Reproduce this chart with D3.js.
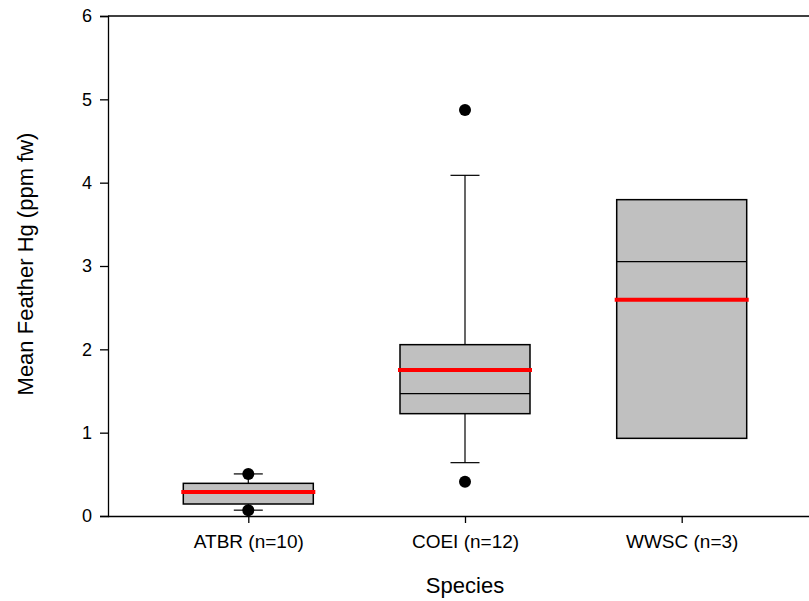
<!DOCTYPE html>
<html><head><meta charset="utf-8">
<script src="https://cdn.jsdelivr.net/npm/d3@7"></script>
<style>body{margin:0;background:#fff}svg{display:block;font-family:"Liberation Sans",Arial,sans-serif}</style>
</head><body><svg id="c" width="809" height="601"></svg>
<script>
const categories = ["ATBR (n=10)", "COEI (n=12)", "WWSC (n=3)"];
const q1 = [0.144, 1.228, 0.932];
const medians = [0.28, 1.468, 3.052];
const q3 = [0.392, 2.056, 3.796];
const means = [0.288, 1.752, 2.596];
const whiskerLow = [0.07, 0.64, null];
const whiskerHigh = [0.505, 4.088, null];
const outliers = [[0.505, 0.07], [4.872, 0.41], []];
const yTicks = [0, 1, 2, 3, 4, 5, 6];

(function () {
const svg = d3.select("#c");
const pLeft = 108, pTop = 16, pBottom = 516, pRight = 822;
const x = d3.scalePoint().domain(categories).range([248.3, 681.7]);
const y = d3.scaleLinear().domain([0, 6]).range([pBottom, pTop]);
const boxW = 130, capW = 29;
const FONT = "Liberation Sans, Arial, sans-serif";

svg.append("line").attr("x1", pLeft).attr("x2", pRight).attr("y1", pTop).attr("y2", pTop)
  .attr("stroke", "#000").attr("stroke-width", 1.3);

const g = svg.append("g");
categories.forEach((c, i) => {
  const cx = x(c);
  if (whiskerHigh[i] != null) {
    g.append("line").attr("x1", cx).attr("x2", cx).attr("y1", y(q3[i])).attr("y2", y(whiskerHigh[i])).attr("stroke", "#000").attr("stroke-width", 1.2);
    g.append("line").attr("x1", cx - capW/2).attr("x2", cx + capW/2).attr("y1", y(whiskerHigh[i])).attr("y2", y(whiskerHigh[i])).attr("stroke", "#000").attr("stroke-width", 1.2);
  }
  if (whiskerLow[i] != null) {
    g.append("line").attr("x1", cx).attr("x2", cx).attr("y1", y(q1[i])).attr("y2", y(whiskerLow[i])).attr("stroke", "#000").attr("stroke-width", 1.2);
    g.append("line").attr("x1", cx - capW/2).attr("x2", cx + capW/2).attr("y1", y(whiskerLow[i])).attr("y2", y(whiskerLow[i])).attr("stroke", "#000").attr("stroke-width", 1.2);
  }
  g.append("rect").attr("x", cx - boxW/2).attr("y", y(q3[i])).attr("width", boxW).attr("height", y(q1[i]) - y(q3[i]))
    .attr("fill", "#c0c0c0").attr("stroke", "#000").attr("stroke-width", 1.5);
  g.append("line").attr("x1", cx - boxW/2).attr("x2", cx + boxW/2).attr("y1", y(medians[i])).attr("y2", y(medians[i])).attr("stroke", "#000").attr("stroke-width", 1.2);
  g.append("line").attr("x1", cx - boxW/2 - 2).attr("x2", cx + boxW/2 + 2).attr("y1", y(means[i])).attr("y2", y(means[i])).attr("stroke", "#ff0000").attr("stroke-width", 4);
  outliers[i].forEach(v => {
    g.append("circle").attr("cx", cx).attr("cy", y(v)).attr("r", 6).attr("fill", "#000");
  });
});

const ya = svg.append("g").attr("transform", `translate(${pLeft},0)`)
  .call(d3.axisLeft(y).tickValues(yTicks).tickSize(8).tickPadding(8).tickFormat(d3.format("d")));
ya.select(".domain").attr("stroke-width", 1.3);
ya.selectAll(".tick line").attr("stroke-width", 1.3);
ya.selectAll("text").attr("font-size", 18).attr("font-family", FONT).attr("fill", "#000");

const xa = svg.append("g").attr("transform", `translate(0,${pBottom})`)
  .call(d3.axisBottom(x).tickSize(7).tickPadding(12));
xa.select(".domain").attr("d", `M${pLeft},0.5H${pRight}`).attr("stroke-width", 1.3);
xa.selectAll(".tick line").attr("stroke-width", 1.3);
xa.selectAll("text").attr("font-size", 19).attr("font-family", FONT).attr("fill", "#000");

svg.append("text").attr("x", 465).attr("y", 593).attr("text-anchor", "middle")
  .attr("font-size", 22).attr("font-family", FONT).text("Species");
svg.append("text").attr("transform", `translate(33,264) rotate(-90)`).attr("text-anchor", "middle")
  .attr("font-size", 22).attr("font-family", FONT).text("Mean Feather Hg (ppm fw)");
})();
</script></body></html>
